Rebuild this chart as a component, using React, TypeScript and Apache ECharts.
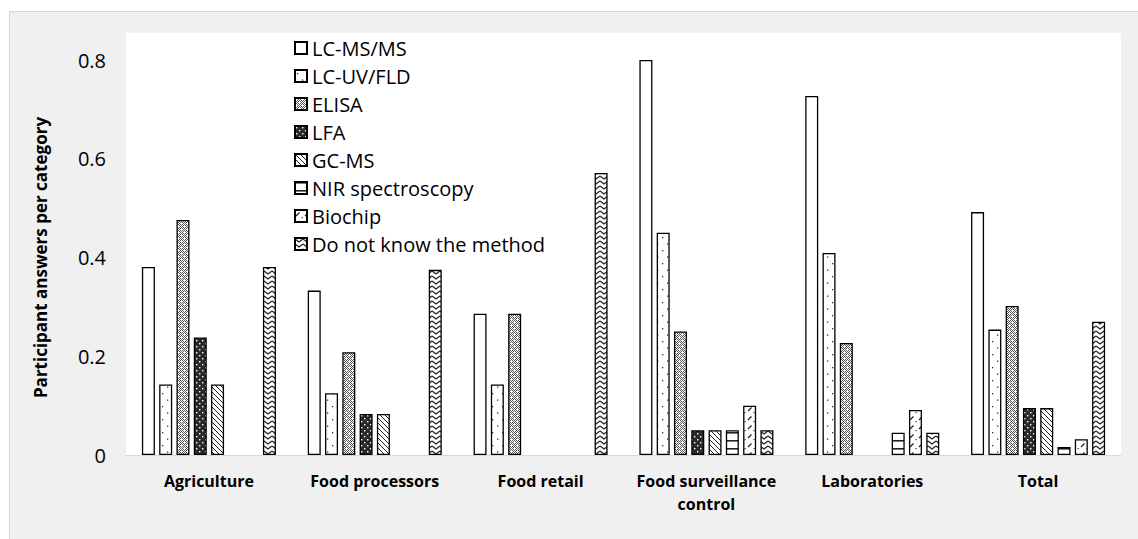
import React, { useEffect, useRef } from 'react';
import * as echarts from 'echarts';

const categories = ['Agriculture', 'Food processors', 'Food retail', 'Food surveillance\ncontrol', 'Laboratories', 'Total'];
const methods = ['LC-MS/MS', 'LC-UV/FLD', 'ELISA', 'LFA', 'GC-MS', 'NIR spectroscopy', 'Biochip', 'Do not know the method'];
const lcMsMs = [0.381, 0.333, 0.286, 0.8, 0.727, 0.492];
const lcUvFld = [0.143, 0.125, 0.143, 0.45, 0.409, 0.254];
const elisa = [0.476, 0.208, 0.286, 0.25, 0.227, 0.302];
const lfa = [0.238, 0.083, 0, 0.05, 0, 0.095];
const gcMs = [0.143, 0.083, 0, 0.05, 0, 0.095];
const nir = [0, 0, 0, 0.05, 0.045, 0.016];
const biochip = [0, 0, 0, 0.1, 0.091, 0.032];
const unknown = [0.381, 0.375, 0.571, 0.05, 0.045, 0.27];
const seriesValues = [lcMsMs, lcUvFld, elisa, lfa, gcMs, nir, biochip, unknown];
const yMax = 0.8;
const yInterval = 0.2;

type Ctx = CanvasRenderingContext2D;
function tile(w: number, h: number, bg: string, draw: (c: Ctx) => void) {
  const c = document.createElement('canvas');
  c.width = w;
  c.height = h;
  const ctx = c.getContext('2d') as Ctx;
  ctx.fillStyle = bg;
  ctx.fillRect(0, 0, w, h);
  draw(ctx);
  return { image: c, repeat: 'repeat', imageWidth: w, imageHeight: h } as any;
}

function makeFills() {
  const plain = '#ffffff';
  const dots = tile(10, 13, '#fff', (c) => {
    c.fillStyle = '#333';
    c.fillRect(2, 3, 1.3, 1.3);
    c.fillRect(7, 9.5, 1.3, 1.3);
  });
  const check = tile(6, 6, '#fff', (c) => {
    c.fillStyle = '#555';
    for (let x = 0; x < 6; x++) {
      for (let y = 0; y < 6; y++) {
        if ((x + y) % 2 === 0 && !(x % 3 === 1 && y % 3 === 1)) c.fillRect(x, y, 1, 1);
      }
    }
  });
  const darkDots = tile(6, 6, '#2a2a2a', (c) => {
    c.fillStyle = '#fff';
    c.fillRect(1, 1, 1.4, 1.4);
    c.fillRect(4, 4, 1.4, 1.4);
  });
  const diag = tile(5, 5, '#fff', (c) => {
    c.strokeStyle = '#222';
    c.lineWidth = 1;
    for (const k of [-5, 0, 5]) {
      c.beginPath();
      c.moveTo(k, 0);
      c.lineTo(k + 5, 5);
      c.stroke();
    }
  });
  const hlines = tile(4, 8, '#fff', (c) => {
    c.fillStyle = '#222';
    c.fillRect(0, 0, 4, 1.6);
  });
  const dashes = tile(9, 9, '#fff', (c) => {
    c.strokeStyle = '#222';
    c.lineWidth = 1.2;
    c.beginPath();
    c.moveTo(1, 6);
    c.lineTo(4.5, 2.5);
    c.stroke();
    c.fillStyle = '#333';
    c.fillRect(6.5, 7, 1.2, 1.2);
  });
  const zig = tile(8, 5, '#fff', (c) => {
    c.strokeStyle = '#222';
    c.lineWidth = 1.3;
    c.beginPath();
    c.moveTo(0, 1);
    c.lineTo(4, 4);
    c.lineTo(8, 1);
    c.stroke();
  });
  return [plain, dots, check, darkDots, diag, hlines, dashes, zig];
}

export default function App() {
  const ref = useRef<HTMLDivElement>(null);
  useEffect(() => {
    document.body.style.margin = '0';
    if (!ref.current) return;
    const chart = echarts.init(ref.current, null, { renderer: 'svg' });
    const fills = makeFills();
    const font = '"Open Sans", "Noto Sans", sans-serif';
    chart.setOption({
      animation: false,
      backgroundColor: '#ffffff',
      textStyle: { fontFamily: font },
      graphic: [
        {
          type: 'rect',
          z: -20,
          shape: { x: 9.5, y: 11.5, width: 1140, height: 540 },
          style: { fill: '#f0f0f0', stroke: '#d6d6d6', lineWidth: 1 },
          silent: true,
        },
        {
          type: 'rect',
          z: -10,
          shape: { x: 126, y: 33, width: 995, height: 422 },
          style: { fill: '#ffffff' },
          silent: true,
        },
      ],
      legend: {
        orient: 'vertical',
        left: 294,
        top: 38,
        padding: 0,
        itemGap: 8,
        itemWidth: 12,
        itemHeight: 12,
        icon: 'rect',
        textStyle: { fontFamily: font, fontSize: 20, lineHeight: 20, color: '#000' },
        data: methods,
      },
      grid: { left: 126, right: 17, top: 60, bottom: 84, containLabel: false },
      xAxis: {
        type: 'category',
        data: categories,
        axisLine: { show: true, lineStyle: { color: '#d9d9d9', width: 1 } },
        axisTick: { show: false },
        axisLabel: {
          fontFamily: font,
          fontSize: 16,
          fontWeight: 'bold',
          color: '#000',
          lineHeight: 23,
          margin: 14,
          interval: 0,
        },
      },
      yAxis: {
        type: 'value',
        min: 0,
        max: yMax,
        interval: yInterval,
        name: 'Participant answers per category',
        nameLocation: 'middle',
        nameGap: 77,
        nameTextStyle: { fontFamily: font, fontSize: 17, fontWeight: 'bold', color: '#000' },
        axisLine: { show: false },
        axisTick: { show: false },
        splitLine: { show: false },
        axisLabel: {
          fontFamily: font,
          fontSize: 20,
          color: '#000',
          margin: 20,
          formatter: (v: number) => (v === 0 ? '0' : String(Math.round(v * 10) / 10)),
        },
      },
      series: methods.map((name, i) => ({
        name,
        type: 'bar',
        barWidth: 13,
        barGap: '33%',
        data: seriesValues[i].map((v) => (v === 0 ? '-' : v)),
        itemStyle: { color: fills[i], borderColor: '#000', borderWidth: 1.3 },
        emphasis: { disabled: true },
      })),
    });
    return () => chart.dispose();
  }, []);
  return <div ref={ref} style={{ width: 1138, height: 539 }} />;
}
